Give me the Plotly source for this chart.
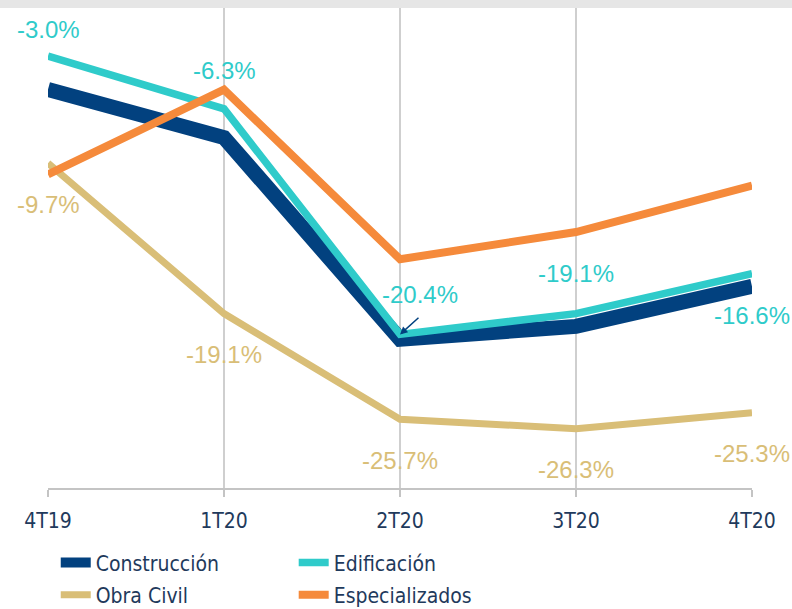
import plotly.graph_objects as go

# Variación interanual por trimestre (%)
trimestres = ["4T19", "1T20", "2T20", "3T20", "4T20"]

construccion = [-5.1, -8.1, -20.7, -19.9, -17.4]
edificacion = [-3.0, -6.3, -20.4, -19.1, -16.6]
obra_civil = [-9.7, -19.1, -25.7, -26.3, -25.3]
especializados = [-10.4, -5.1, -15.7, -14.0, -11.1]

etiquetas_edif = ["-3.0%", "-6.3%", "-20.4%", "-19.1%", "-16.6%"]
etiquetas_obra = ["-9.7%", "-19.1%", "-25.7%", "-26.3%", "-25.3%"]

AZUL = "#02417f"
TURQUESA = "#2fcbca"
ARENA = "#d9be77"
NARANJA = "#f58a3b"
FUENTE = "Liberation Sans Narrow, DejaVu Sans Condensed, Arial Narrow, sans-serif"

fig = go.Figure()

fig.add_trace(go.Scatter(x=trimestres, y=construccion, mode="lines", name="Construcción",
                         line=dict(color=AZUL, width=15), legend="legend", legendgroup="a"))
fig.add_trace(go.Scatter(x=trimestres, y=obra_civil, mode="lines", name="Obra Civil",
                         line=dict(color=ARENA, width=7), legend="legend", legendgroup="b"))
fig.add_trace(go.Scatter(x=trimestres, y=edificacion, mode="lines", name="Edificación",
                         line=dict(color=TURQUESA, width=7.5), legend="legend2", legendgroup="c"))
fig.add_trace(go.Scatter(x=trimestres, y=especializados, mode="lines", name="Especializados",
                         line=dict(color=NARANJA, width=8), legend="legend2", legendgroup="d"))

# etiquetas de datos
desp_edif = [(0, 27), (0, 38), (20, 40), (0, 40), (0, -42)]
for t, v, txt, (dx, dy) in zip(trimestres, edificacion, etiquetas_edif, desp_edif):
    fig.add_annotation(x=t, y=v, text=txt, showarrow=False, xshift=dx, yshift=dy,
                       font=dict(family="Liberation Sans, Arial", size=24, color=TURQUESA))
for t, v, txt in zip(trimestres, obra_civil, etiquetas_obra):
    fig.add_annotation(x=t, y=v, text=txt, showarrow=False, yshift=-41,
                       font=dict(family="Liberation Sans, Arial", size=24, color=ARENA))

# flecha de la etiqueta -20.4%
fig.add_annotation(x=trimestres[2], y=edificacion[2], text="", showarrow=True,
                   ax=20, ay=-18, arrowhead=2, arrowsize=1, arrowwidth=1.5, arrowcolor=AZUL)

# franja gris superior
fig.add_shape(type="rect", xref="paper", yref="paper", x0=-0.1, x1=1.1, y0=1, y1=1 + 10 / 480,
              fillcolor="#e6e6e6", line_width=0, layer="below")

fig.update_xaxes(type="category", range=[0, 4], showgrid=True, gridcolor="#cfcfcf", gridwidth=1.5,
                 showline=True, linecolor="#c4c4c4", linewidth=2,
                 ticks="outside", ticklen=7, tickcolor="#c4c4c4", tickwidth=2, ticklabelstandoff=6,
                 tickfont=dict(family=FUENTE, size=21, color="#1f3a5c"))
fig.update_yaxes(range=[-30, 0], showgrid=False, zeroline=False, showticklabels=False)

leyenda = dict(font=dict(family=FUENTE, size=21, color="#1f3a5c"), orientation="v",
               xanchor="left", yanchor="top", bgcolor="rgba(0,0,0,0)", tracegroupgap=2)

fig.update_layout(
    width=792,
    height=609,
    margin=dict(l=48, r=40, t=8, b=121, autoexpand=False),
    paper_bgcolor="white",
    plot_bgcolor="white",
    showlegend=True,
    legend=dict(leyenda, x=0.011, y=-0.113),
    legend2=dict(leyenda, x=0.349, y=-0.113),
)

# sin margen del navegador ni barra de herramientas
fig.write_html("out.html", config={"displayModeBar": False},
               post_script="document.body.style.margin = '0';")
